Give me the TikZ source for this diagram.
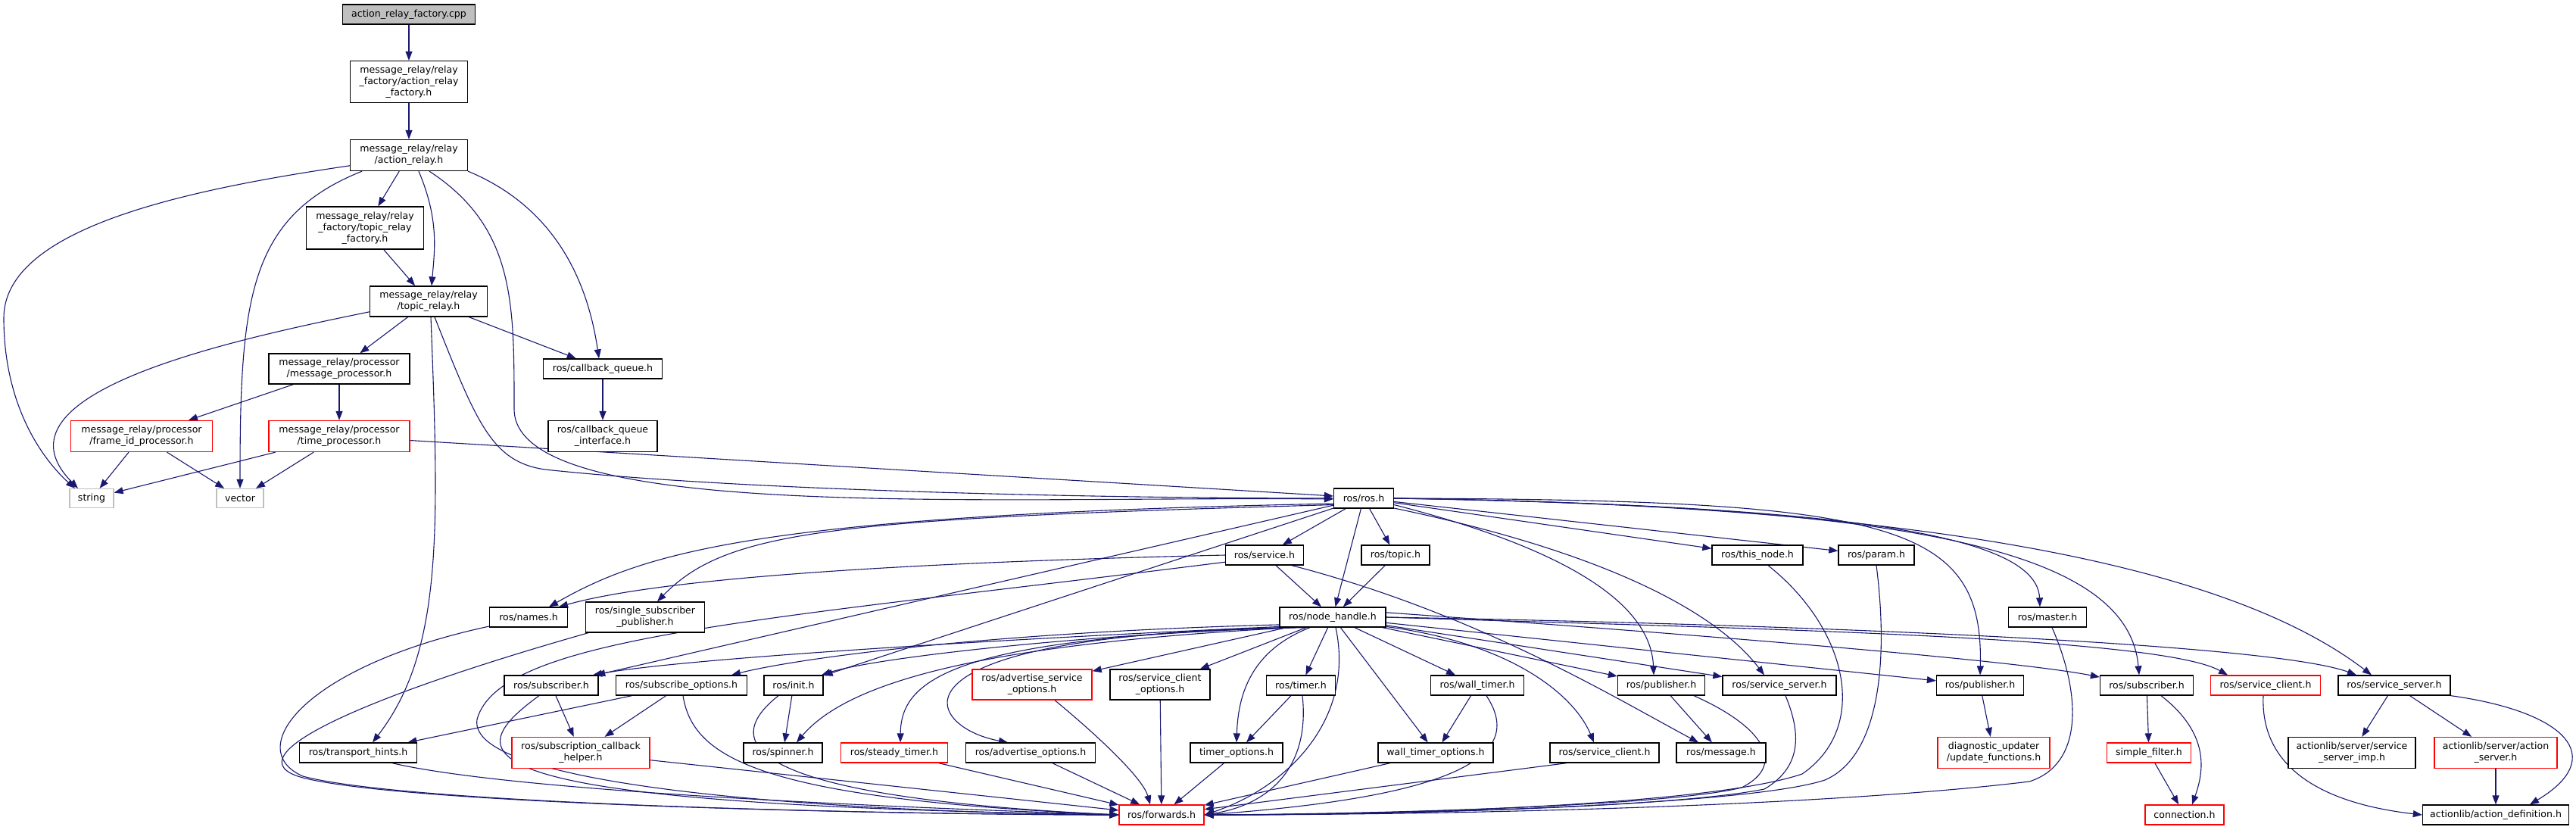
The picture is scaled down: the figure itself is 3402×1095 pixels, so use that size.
\documentclass[tikz,border=0pt]{standalone}
\usepackage{fontspec}
\setmainfont{DejaVu Sans}
\usepackage{tikz}
\usetikzlibrary{arrows.meta}
\definecolor{edgeblue}{HTML}{191970}
\definecolor{lightgrey}{HTML}{BFBFBF}
\pgfdeclarelayer{edges}
\pgfsetlayers{edges,main}

\begin{document}
\begin{tikzpicture}[
    x=1bp, y=-1bp,
    hdr/.style={rectangle, draw=black, line width=1.3bp, fill=white, inner sep=0pt, align=center, font=\fontsize{12.6}{15}\selectfont},
    hdrred/.style={hdr, draw=red},
    hdrsys/.style={hdr, draw=lightgrey},
    hdrmain/.style={hdr, fill=lightgrey},
    wh/.style 2 args={minimum width=#1bp, minimum height=#2bp},
    incl/.style={-{Triangle[length=12bp,width=9bp]}, draw=edgeblue, line width=1.1bp}
]
    \useasboundingbox (0,0) rectangle (3402,1095);

    % message_relay part
    \node[hdrmain, wh={175}{26}] (cpp) at (540,19) {action\_relay\_factory.cpp};
    \node[hdr, wh={155}{55}] (arf) at (540,108) {message\_relay/relay\\\_factory/action\_relay\\\_factory.h};
    \node[hdr, wh={155}{41}] (ar) at (540,205) {message\_relay/relay\\/action\_relay.h};
    \node[hdr, wh={155}{56}] (trf) at (482,301) {message\_relay/relay\\\_factory/topic\_relay\\\_factory.h};
    \node[hdr, wh={155}{40}] (tr) at (566,398) {message\_relay/relay\\/topic\_relay.h};
    \node[hdr, wh={186}{40}] (mp) at (448,487) {message\_relay/processor\\/message\_processor.h};
    \node[hdr, wh={157}{26}] (cbq) at (796,487) {ros/callback\_queue.h};
    \node[hdrred, wh={187}{41}] (fid) at (187,576) {message\_relay/processor\\/frame\_id\_processor.h};
    \node[hdrred, wh={186}{41}] (tp) at (448,576) {message\_relay/processor\\/time\_processor.h};
    \node[hdr, wh={144}{41}] (cbqi) at (796,576) {ros/callback\_queue\\\_interface.h};
    \node[hdrsys, wh={58}{25}] (str) at (121,658) {string};
    \node[hdrsys, wh={62}{25}] (vec) at (317,658) {vector};

    % roscpp part
    \node[hdr, wh={79}{26}] (ros) at (1801,658) {ros/ros.h};
    \node[hdr, wh={103}{26}] (srv) at (1670,733) {ros/service.h};
    \node[hdr, wh={90}{26}] (topic) at (1843,733) {ros/topic.h};
    \node[hdr, wh={120}{26}] (thisnode) at (2321,733) {ros/this\_node.h};
    \node[hdr, wh={100}{26}] (param) at (2478,733) {ros/param.h};
    \node[hdr, wh={103}{26}] (names) at (698,815) {ros/names.h};
    \node[hdr, wh={157}{40}] (ssp) at (852,815) {ros/single\_subscriber\\\_publisher.h};
    \node[hdr, wh={140}{26}] (nh) at (1760,815) {ros/node\_handle.h};
    \node[hdr, wh={103}{26}] (master) at (2704,815) {ros/master.h};
    \node[hdr, wh={124}{26}] (subL) at (728,905) {ros/subscriber.h};
    \node[hdr, wh={173}{26}] (subopt) at (900,905) {ros/subscribe\_options.h};
    \node[hdr, wh={78}{26}] (init) at (1048,905) {ros/init.h};
    \node[hdrred, wh={158}{40}] (aso) at (1363,904) {ros/advertise\_service\\\_options.h};
    \node[hdr, wh={132}{40}] (sco) at (1532,904) {ros/service\_client\\\_options.h};
    \node[hdr, wh={91}{26}] (timer) at (1718,905) {ros/timer.h};
    \node[hdr, wh={123}{26}] (wtimer) at (1951,905) {ros/wall\_timer.h};
    \node[hdr, wh={115}{26}] (pubM) at (2194,905) {ros/publisher.h};
    \node[hdr, wh={150}{26}] (ssM) at (2350,905) {ros/service\_server.h};
    \node[hdr, wh={115}{26}] (pubR) at (2615,905) {ros/publisher.h};
    \node[hdr, wh={123}{26}] (subR) at (2835,905) {ros/subscriber.h};
    \node[hdrred, wh={145}{26}] (scR) at (2992,905) {ros/service\_client.h};
    \node[hdr, wh={148}{26}] (ssR) at (3162,905) {ros/service\_server.h};
    \node[hdr, wh={155}{26}] (th) at (473,994) {ros/transport\_hints.h};
    \node[hdrred, wh={182}{41}] (sch) at (767,994) {ros/subscription\_callback\\\_helper.h};
    \node[hdr, wh={104}{26}] (spin) at (1034,994) {ros/spinner.h};
    \node[hdrred, wh={141}{26}] (steady) at (1181,994) {ros/steady\_timer.h};
    \node[hdr, wh={171}{26}] (advopt) at (1361,994) {ros/advertise\_options.h};
    \node[hdr, wh={122}{26}] (topt) at (1633,994) {timer\_options.h};
    \node[hdr, wh={152}{26}] (wtopt) at (1896,994) {wall\_timer\_options.h};
    \node[hdr, wh={144}{26}] (scB) at (2119,994) {ros/service\_client.h};
    \node[hdr, wh={118}{26}] (msg) at (2273,994) {ros/message.h};
    \node[hdrred, wh={148}{41}] (diag) at (2633,994) {diagnostic\_updater\\/update\_functions.h};
    \node[hdrred, wh={111}{26}] (sf) at (2838,994) {simple\_filter.h};
    \node[hdr, wh={168}{41}] (ssimp) at (3106,994) {actionlib/server/service\\\_server\_imp.h};
    \node[hdrred, wh={162}{41}] (as) at (3296,994) {actionlib/server/action\\\_server.h};
    \node[hdrred, wh={112}{26}] (fwd) at (1534,1076) {ros/forwards.h};
    \node[hdrred, wh={104}{26}] (conn) at (2885,1076) {connection.h};
    \node[hdr, wh={193}{26}] (adef) at (3296,1076) {actionlib/action\_definition.h};

    \begin{pgfonlayer}{edges}
    % message_relay includes
    \draw[incl] (cpp) -- (arf);
    \draw[incl] (arf) -- (ar);
    \draw[incl] (ar) -- (trf);
    \draw[incl] ([xshift=13bp]ar.south) .. controls (580,290) and (574,330) .. ([xshift=4bp]tr.north);
    \draw[incl] (trf) -- (tr);
    \draw[incl] (ar.190) .. controls (250,250) and (5,300) .. (5,420) .. controls (5,540) and (60,610) .. ([xshift=-22bp]str.north);
    \draw[incl] ([xshift=-62bp]ar.south) .. controls +(-150,60) and +(0,-250) .. (vec.north);
    \draw[incl] ([xshift=27bp]ar.south) .. controls (680,300) and (679,400) .. (679,540) .. controls (679,690) and (1300,655) .. ([yshift=-1bp]ros.west);
    \draw[incl] (ar.south east) .. controls (700,260) and (770,330) .. ([xshift=-5bp]cbq.north);
    \draw[incl] (tr.190) .. controls (300,450) and (-20,520) .. ([xshift=-18bp]str.north);
    \draw[incl] (tr) -- (mp);
    \draw[incl] (tr) -- (cbq);
    \draw[incl] ([xshift=8bp]tr.south) .. controls (630,560) and (650,610) .. (720,620) .. controls (1000,650) and (1500,658) .. (ros.west);
    \draw[incl] ([xshift=3bp]tr.south) .. controls (580,700) and (585,860) .. ([xshift=19bp]th.north);
    \draw[incl] (mp) -- (fid);
    \draw[incl] (mp) -- (tp);
    \draw[incl] (cbq) -- (cbqi);
    \draw[incl] (fid) -- (str);
    \draw[incl] (fid) -- (vec);
    \draw[incl] (tp) -- (str);
    \draw[incl] (tp) -- (vec);
    \draw[incl] (tp) -- ([yshift=3bp]ros.west);

    % ros/ros.h
    \draw[incl] (ros.190) .. controls (1000,680) and (850,730) .. ([xshift=27bp]names.north);
    \draw[incl] (ros.192) .. controls (1100,685) and (960,700) .. ([xshift=16bp]ssp.north);
    \draw[incl] (ros) -- (subL);
    \draw[incl] (ros) -- (init);
    \draw[incl] (ros) -- (srv);
    \draw[incl] (ros) -- (topic);
    \draw[incl] (ros) -- (nh);
    \draw[incl] (ros) -- (thisnode);
    \draw[incl] (ros) -- (param);
    \draw[incl] (ros.-12) .. controls (2050,720) and (2180,790) .. ([xshift=-10bp]pubM.north);
    \draw[incl] (ros.-18) .. controls (2100,725) and (2260,800) .. ([xshift=-20bp]ssM.north);
    \draw[incl] (ros.east) .. controls (2500,660) and (2620,690) .. (pubR.north);
    \draw[incl] (ros.east) .. controls (2400,668) and (2690,700) .. ([xshift=-10bp]master.north);
    \draw[incl] (ros.east) .. controls (2500,668) and (2810,720) .. ([xshift=-10bp]subR.north);
    \draw[incl] (ros.east) .. controls (2600,668) and (2960,760) .. ([xshift=-30bp]ssR.north);

    % ros/service.h and ros/topic.h
    \draw[incl] (srv) -- (nh);
    \draw[incl] (srv.west) .. controls (1100,745) and (850,770) .. ([xshift=40bp]names.north);
    \draw[incl] (srv.190) .. controls (1000,820) and (660,840) .. (630,950) .. controls (615,1040) and (1100,1072) .. (fwd.west);
    \draw[incl] ([xshift=36bp]srv.south) .. controls (1950,810) and (2130,920) .. ([xshift=-30bp]msg.north);
    \draw[incl] (topic) -- (nh);

    % ros/node_handle.h
    \draw[incl] (nh.190) .. controls (1300,845) and (900,870) .. ([xshift=55bp]subL.north);
    \draw[incl] (nh.188) .. controls (1300,835) and (1050,870) .. ([xshift=66bp]subopt.north);
    \draw[incl] (nh.192) .. controls (1400,840) and (1150,870) .. ([xshift=37bp]init.north);
    \draw[incl] (nh.195) .. controls (1300,850) and (1120,900) .. ([xshift=18bp]spin.north);
    \draw[incl] (nh.200) .. controls (1250,840) and (1190,900) .. ([xshift=8bp]steady.north);
    \draw[incl] (nh.193) .. controls (1150,840) and (1220,960) .. ([xshift=-30bp]advopt.north);
    \draw[incl] (nh) -- (aso);
    \draw[incl] (nh) -- (sco);
    \draw[incl] ([xshift=-30bp]nh.south) .. controls (1650,860) and (1635,920) .. (topt.north);
    \draw[incl] (nh) -- (timer);
    \draw[incl] ([xshift=4bp]nh.south) .. controls (1790,950) and (1700,1040) .. (fwd.east);
    \draw[incl] (nh) -- (wtopt);
    \draw[incl] (nh) -- (wtimer);
    \draw[incl] (nh.-10) .. controls (2000,850) and (2080,920) .. ([xshift=-14bp]scB.north);
    \draw[incl] (nh) -- (pubM);
    \draw[incl] (nh) -- (ssM);
    \draw[incl] (nh) -- (pubR);
    \draw[incl] (nh.5) .. controls (2200,835) and (2650,870) .. (subR.170);
    \draw[incl] (nh.east) .. controls (2300,830) and (2850,840) .. ([xshift=-50bp]scR.north);
    \draw[incl] (nh.east) .. controls (2400,825) and (3000,850) .. ([xshift=-50bp]ssR.north);

    % down to ros/forwards.h
    \draw[incl] (names.193) .. controls (400,880) and (320,990) .. (400,1025) .. controls (550,1065) and (1250,1076) .. (fwd.west);
    \draw[incl] ([xshift=-75bp]ssp.south) .. controls (480,920) and (300,1000) .. (400,1027) .. controls (550,1065) and (1250,1076) .. (fwd.west);
    \draw[incl] (subL) -- (sch);
    \draw[incl] ([xshift=-16bp]subL.south) .. controls (600,1000) and (600,1062) .. (fwd.west);
    \draw[incl] (subopt) -- (th);
    \draw[incl] (subopt) -- (sch);
    \draw[incl] ([xshift=2bp]subopt.south) .. controls (915,1000) and (1000,1055) .. (fwd.west);
    \draw[incl] ([xshift=45bp]th.south) .. controls (700,1050) and (1300,1070) .. (fwd.west);
    \draw[incl] (sch) -- (fwd);
    \draw[incl] (init) -- (spin);
    \draw[incl] ([xshift=-20bp]init.south) .. controls (950,980) and (980,1052) .. (fwd.west);
    \draw[incl] (steady) -- (fwd);
    \draw[incl] (advopt) -- (fwd);
    \draw[incl] ([xshift=30bp]aso.south) .. controls (1460,980) and (1510,1030) .. ([xshift=-15bp]fwd.north);
    \draw[incl] (sco) -- (fwd);
    \draw[incl] (topt) -- (fwd);
    \draw[incl] (timer) -- (topt);
    \draw[incl] ([xshift=2bp]timer.south) .. controls (1730,1010) and (1680,1062) .. (fwd.east);
    \draw[incl] (wtimer) -- (wtopt);
    \draw[incl] ([xshift=12bp]wtimer.south) .. controls (2010,990) and (1950,1050) .. (fwd.east);
    \draw[incl] (wtopt) -- (fwd);
    \draw[incl] ([xshift=-50bp]scB.south) -- (fwd);
    \draw[incl] (pubM) -- (msg);
    \draw[incl] ([xshift=43bp]pubM.south) .. controls (2330,960) and (2360,1010) .. (2300,1040) .. controls (2200,1065) and (1800,1075) .. (fwd.east);
    \draw[incl] ([xshift=8bp]ssM.south) .. controls (2375,960) and (2385,1010) .. (2330,1042) .. controls (2200,1068) and (1800,1076) .. (fwd.east);
    \draw[incl] ([xshift=14bp]thisnode.south) .. controls (2440,830) and (2470,960) .. (2380,1022) .. controls (2250,1066) and (1800,1076) .. (fwd.east);
    \draw[incl] (param.south) .. controls (2495,880) and (2480,1000) .. (2410,1030) .. controls (2300,1066) and (1800,1076) .. (fwd.east);
    \draw[incl] ([xshift=6bp]master.south) .. controls (2750,920) and (2750,1010) .. (2680,1032) .. controls (2400,1066) and (1900,1076) .. (fwd.east);

    % right hand side
    \draw[incl] (pubR) -- (diag);
    \draw[incl] (subR) -- (sf);
    \draw[incl] ([xshift=19bp]subR.south) .. controls (2920,970) and (2910,1020) .. ([xshift=10bp]conn.north);
    \draw[incl] (sf) -- (conn);
    \draw[incl] ([xshift=-3bp]scR.south) .. controls (2985,1010) and (3060,1060) .. (adef.west);
    \draw[incl] (ssR) -- (ssimp);
    \draw[incl] (ssR) -- (as);
    \draw[incl] (ssR.south east) .. controls (3390,940) and (3445,1000) .. ([xshift=45bp]adef.north);
    \draw[incl] (as) -- (adef);
    \end{pgfonlayer}
\end{tikzpicture}
\end{document}
